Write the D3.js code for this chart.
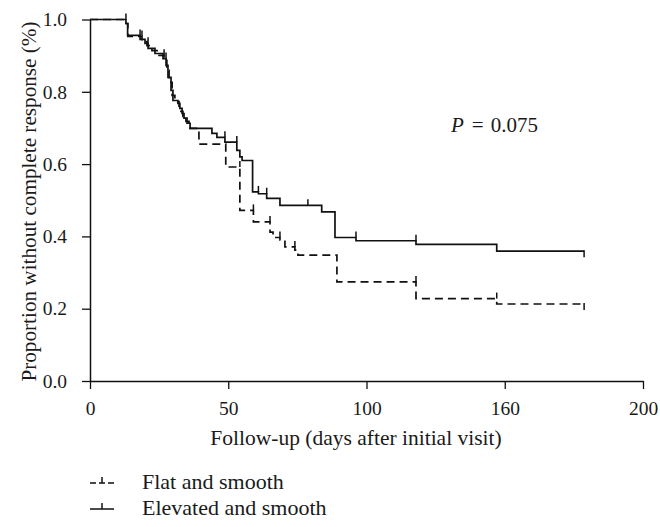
<!DOCTYPE html>
<html><head><meta charset="utf-8">
<script src="https://cdn.jsdelivr.net/npm/d3@7/dist/d3.min.js"></script>
<style>
html,body{margin:0;padding:0;background:#fff;}
svg{display:block;}
text{font-family:"Liberation Serif","Times New Roman",serif;fill:#1a1a1a;}
</style></head>
<body>
<svg id="chart" width="660" height="527"></svg>
<script>
// ---- data ----
const xTickValues = [0, 50, 100, 150, 200];
const xTickLabels = ["0", "50", "100", "160", "200"];
const yTickValues = [0, 0.2, 0.4, 0.6, 0.8, 1.0];

const seriesNames = ["Flat and smooth", "Elevated and smooth"];

// Flat and smooth: event days and survival after each event
const flatDays = [13.0, 13.7, 18.8, 20.6, 22.4, 24.6, 26.8, 27.8, 28.6, 29.7, 30.7, 32.2, 32.9, 33.6, 34.7, 35.8, 39.4, 49.1, 54.2, 59.1, 65.1, 66.2, 68.7, 70.5, 74.1, 75.2, 89.3, 117.9, 147.1];
const flatSurv = [0.989, 0.953, 0.939, 0.928, 0.914, 0.901, 0.887, 0.859, 0.826, 0.790, 0.773, 0.760, 0.746, 0.732, 0.718, 0.699, 0.655, 0.592, 0.472, 0.440, 0.412, 0.397, 0.390, 0.371, 0.362, 0.348, 0.274, 0.228, 0.213];
const flatCensor = [18.8, 26.8, 54.2, 59.1, 65.1, 68.7, 74.1, 117.9, 147.1];
const flatEnd = 178.7;

// Elevated and smooth
const elevDays = [13.0, 13.6, 18.1, 19.9, 21.0, 23.5, 26.4, 27.5, 28.2, 29.3, 30.0, 31.8, 32.5, 33.3, 34.0, 35.1, 36.2, 44.1, 45.9, 48.8, 53.1, 54.2, 55.0, 58.8, 60.9, 63.9, 68.7, 83.8, 88.6, 96.2, 117.9, 147.1];
const elevSurv = [0.989, 0.956, 0.945, 0.934, 0.920, 0.906, 0.892, 0.873, 0.840, 0.804, 0.776, 0.768, 0.754, 0.740, 0.727, 0.713, 0.699, 0.685, 0.674, 0.661, 0.638, 0.620, 0.610, 0.523, 0.518, 0.505, 0.486, 0.468, 0.397, 0.388, 0.378, 0.359];
const elevCensor = [13.0, 18.1, 21.0, 27.5, 48.8, 53.1, 60.9, 63.9, 78.8, 96.2, 117.9];
const elevEnd = 178.7;

const pEquals = "=";
const pValue = "0.075";

// ---- layout ----
const svg = d3.select("#chart");
const x = d3.scaleLinear().domain([0, 200]).range([90, 643]);
const y = d3.scaleLinear().domain([0, 1]).range([381, 19.5]);

function stepPoints(days, surv, end) {
  const pts = [[0, 1]];
  let cur = 1;
  days.forEach((d, i) => { pts.push([d, cur]); pts.push([d, surv[i]]); cur = surv[i]; });
  pts.push([end, cur]);
  return pts;
}
function survBefore(days, surv, t) {
  let s = 1;
  days.forEach((d, i) => { if (d < t - 1e-9) s = surv[i]; });
  return s;
}
function survAt(days, surv, t) {
  let s = 1;
  days.forEach((d, i) => { if (d <= t + 1e-9) s = surv[i]; });
  return s;
}

const line = d3.line().x(d => x(d[0])).y(d => y(d[1]));

const series = [
  {days: flatDays, surv: flatSurv, censor: flatCensor, end: flatEnd, dash: "8,5"},
  {days: elevDays, surv: elevSurv, censor: elevCensor, end: elevEnd, dash: null}
];

series.forEach(s => {
  svg.append("path")
    .attr("d", line(stepPoints(s.days, s.surv, s.end)))
    .attr("fill", "none").attr("stroke", "#111").attr("stroke-width", 1.7)
    .attr("stroke-dasharray", s.dash);
  s.censor.forEach(t => {
    const v = survBefore(s.days, s.surv, t);
    svg.append("line")
      .attr("x1", x(t)).attr("x2", x(t))
      .attr("y1", y(v)).attr("y2", y(v) - 6)
      .attr("stroke", "#111").attr("stroke-width", 1.5);
  });
  const ve = survAt(s.days, s.surv, s.end);
  svg.append("line")
    .attr("x1", x(s.end)).attr("x2", x(s.end))
    .attr("y1", y(ve) - 1).attr("y2", y(ve) + 6)
    .attr("stroke", "#111").attr("stroke-width", 1.5);
});

// axes
const xAxis = d3.axisBottom(x).tickValues(xTickValues)
  .tickFormat((d, i) => xTickLabels[i]).tickSize(8).tickSizeOuter(0).tickPadding(12);
const gx = svg.append("g").attr("transform", "translate(0," + y(0) + ")").call(xAxis);
const yAxis = d3.axisLeft(y).tickValues(yTickValues)
  .tickFormat(d3.format(".1f")).tickSize(8).tickSizeOuter(0).tickPadding(15);
const gy = svg.append("g").attr("transform", "translate(" + x(0) + ",0)").call(yAxis);
[gx, gy].forEach(g => {
  g.select(".domain").attr("stroke", "#111").attr("stroke-width", 1.5);
  g.selectAll(".tick line").attr("stroke", "#111").attr("stroke-width", 1.3);
  g.selectAll(".tick text").attr("fill", "#1a1a1a")
    .style("font-family", "'Liberation Serif', serif").style("font-size", "19.5px");
});
gx.selectAll(".tick text").attr("dy", "0.71em");

// axis titles
svg.append("text").attr("x", 356).attr("y", 445).attr("text-anchor", "middle")
  .style("font-size", "21.5px").text("Follow-up (days after initial visit)");
svg.append("text").attr("transform", "translate(36,201.5) rotate(-90)").attr("text-anchor", "middle")
  .style("font-size", "21.2px").text("Proportion without complete response (%)");

// p-value
const pt = svg.append("text").attr("x", 451).attr("y", 132).style("font-size", "21px");
pt.append("tspan").style("font-style", "italic").text("P");
pt.append("tspan").attr("dx", 8).text(pEquals);
pt.append("tspan").attr("dx", 7).text(pValue);

// legend
const legY = [483, 509];
series.forEach((s, i) => {
  const g = svg.append("g");
  g.append("line").attr("x1", 90).attr("x2", 114).attr("y1", legY[i]).attr("y2", legY[i])
    .attr("stroke", "#111").attr("stroke-width", 1.5).attr("stroke-dasharray", s.dash ? "6,3" : null);
  g.append("line").attr("x1", 102).attr("x2", 102).attr("y1", legY[i]).attr("y2", legY[i] - 6)
    .attr("stroke", "#111").attr("stroke-width", 1.5);
  g.append("text").attr("x", 142).attr("y", legY[i] + 6).style("font-size", "22px").text(seriesNames[i]);
});
</script>
</body></html>
